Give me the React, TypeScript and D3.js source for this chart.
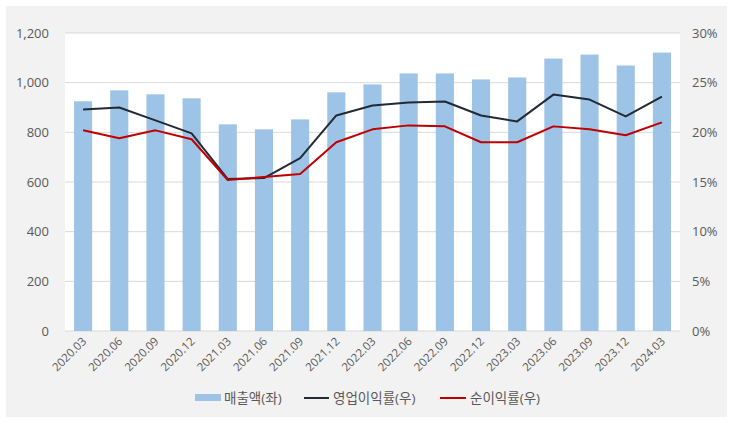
import React from "react";
import * as d3 from "d3";

const categories = ["2020.03","2020.06","2020.09","2020.12","2021.03","2021.06","2021.09","2021.12","2022.03","2022.06","2022.09","2022.12","2023.03","2023.06","2023.09","2023.12","2024.03"];
const revenue = [925, 969, 953, 937, 832, 812, 852, 961, 993, 1037, 1037, 1013, 1021, 1097, 1113, 1069, 1121];
const opMargin = [22.3, 22.5, 21.2, 19.9, 15.3, 15.4, 17.4, 21.7, 22.7, 23.0, 23.1, 21.7, 21.1, 23.8, 23.3, 21.6, 23.6];
const netMargin = [20.2, 19.4, 20.2, 19.3, 15.2, 15.5, 15.8, 19.0, 20.3, 20.7, 20.6, 19.0, 19.0, 20.6, 20.3, 19.7, 21.0];
const leftTicks = [0, 200, 400, 600, 800, 1000, 1200];
const rightTicks = [0, 5, 10, 15, 20, 25, 30];
const legendLabels = ["매출액(좌)", "영업이익률(우)", "순이익률(우)"];

const W = 733, H = 424;
const L = 65, R = 680, T = 33, B = 331;
const font = "'Open Sans', 'Noto Sans CJK KR', sans-serif";
const textColor = "#595959";

export default function App() {
  const x = d3.scaleBand<string>().domain(categories).range([L, R]).paddingInner(0.5).paddingOuter(0.25);
  const yL = d3.scaleLinear().domain([0, 1200]).range([B, T]);
  const yR = d3.scaleLinear().domain([0, 30]).range([B, T]);
  const cx = (c: string) => (x(c) as number) + x.bandwidth() / 2;
  const lineGen = (vals: number[]) =>
    d3.line<number>().x((_, i) => cx(categories[i])).y((v) => yR(v))(vals) as string;

  return (
    <svg width={W} height={H} style={{ position: "absolute", left: 0, top: 0, display: "block" }} fontFamily={font}>
      <rect x={0} y={0} width={W} height={H} fill="#ffffff" />
      <rect x={6} y={6} width={721} height={411} fill="#f2f2f2" />
      <rect x={L} y={T} width={R - L} height={B - T} fill="#ffffff" />
      {leftTicks.map((t) => (
        <line key={t} x1={L} x2={R} y1={yL(t)} y2={yL(t)} stroke="#d9d9d9" strokeWidth={1} />
      ))}
      {revenue.map((v, i) => (
        <rect key={i} x={x(categories[i])} y={yL(v)} width={x.bandwidth()} height={B - yL(v)} fill="#9dc3e6" />
      ))}
      <path d={lineGen(opMargin)} fill="none" stroke="#222a35" strokeWidth={2} strokeLinejoin="round" />
      <path d={lineGen(netMargin)} fill="none" stroke="#c00000" strokeWidth={2} strokeLinejoin="round" />
      {leftTicks.map((t) => (
        <text key={t} x={49} y={yL(t)} dy="0.35em" textAnchor="end" fontSize={13} fill={textColor}>
          {d3.format(",")(t)}
        </text>
      ))}
      {rightTicks.map((t) => (
        <text key={t} x={692} y={yR(t)} dy="0.35em" textAnchor="start" fontSize={13} fill={textColor}>
          {t + "%"}
        </text>
      ))}
      {categories.map((c) => (
        <text key={c} transform={`translate(${cx(c) + 4},${342}) rotate(-45)`} textAnchor="end" fontSize={11.5} fill={textColor}>
          {c}
        </text>
      ))}
      <g>
        <rect x={195} y={394} width={26} height={7} fill="#9dc3e6" />
        <text x={224} y={398} dy="0.35em" fontSize={13.5} fill={textColor}>{legendLabels[0]}</text>
        <line x1={304} x2={329} y1={398} y2={398} stroke="#222a35" strokeWidth={2} />
        <text x={333} y={398} dy="0.35em" fontSize={13.5} fill={textColor}>{legendLabels[1]}</text>
        <line x1={440} x2={466} y1={398} y2={398} stroke="#c00000" strokeWidth={2} />
        <text x={470} y={398} dy="0.35em" fontSize={13.5} fill={textColor}>{legendLabels[2]}</text>
      </g>
    </svg>
  );
}
